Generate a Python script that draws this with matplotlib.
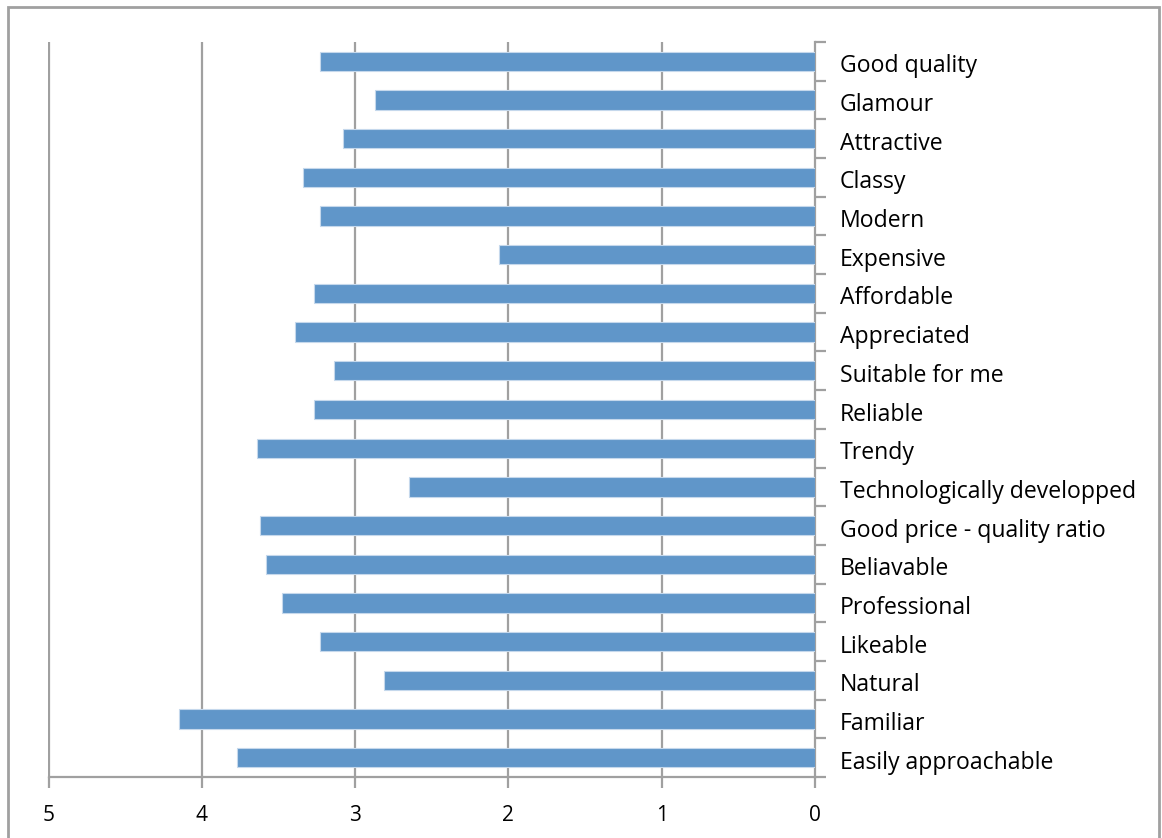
import numpy as np
from matplotlib import pyplot as plt
from matplotlib.patches import Rectangle
from matplotlib.transforms import ScaledTranslation

plt.rcParams['font.family'] = ['Open Sans', 'DejaVu Sans']

# Attribute scores, listed top to bottom
labels = ['Good quality', 'Glamour', 'Attractive', 'Classy', 'Modern',
          'Expensive', 'Affordable', 'Appreciated', 'Suitable for me',
          'Reliable', 'Trendy', 'Technologically developped',
          'Good price - quality ratio', 'Beliavable', 'Professional',
          'Likeable', 'Natural', 'Familiar', 'Easily approachable']
scores = [3.23, 2.87, 3.08, 3.34, 3.23, 2.06, 3.27, 3.39, 3.14, 3.27,
          3.64, 2.65, 3.62, 3.58, 3.48, 3.23, 2.81, 4.15, 3.77]
xticks = [5, 4, 3, 2, 1, 0]

W, H = 1162, 838
fig = plt.figure()
fig.set_dpi(100)
fig.set_size_inches(W / 100, H / 100)

grey = '#A0A0A0'

# outer chart frame (bottom edge runs off the canvas)
frame = Rectangle((8 / W, -0.01), (1159 - 8) / W, (H - 7) / H + 0.01,
                  transform=fig.transFigure, fill=False,
                  edgecolor=grey, linewidth=2)
fig.patches.append(frame)

left, right = 48.5 / W, 815 / W
top, bottom = 1 - 42 / H, 1 - 777 / H
ax = fig.add_axes([left, bottom, right - left, top - bottom])

n = len(labels)
y = np.arange(n)[::-1]
ax.barh(y, scores, height=0.5, color='#6096C9', edgecolor='#C5D8EC',
        linewidth=0.8, zorder=3)

ax.set_xlim(5, 0)
ax.set_ylim(-0.5, n - 0.5)

# vertical gridlines
for v in [5, 4, 3, 2, 1]:
    ax.axvline(v, color=grey, linewidth=1.6, zorder=1)

for s in ['left', 'top']:
    ax.spines[s].set_visible(False)
for s in ['right', 'bottom']:
    ax.spines[s].set_color(grey)
    ax.spines[s].set_linewidth(1.6)

ax.set_xticks(xticks)
ax.set_xticklabels([str(v) for v in xticks], fontsize=15)
ax.tick_params(axis='x', direction='out', length=8, width=1.6,
               color=grey, pad=12)

ax.yaxis.tick_right()
ax.set_yticks(y)
ax.set_yticklabels(labels, fontsize=16.6)
ax.set_yticks(np.arange(n + 1) - 0.5, minor=True)
ax.tick_params(axis='y', which='major', length=0, pad=18)
ax.tick_params(axis='y', which='minor', direction='out', length=8,
               width=1.6, color=grey)
# nudge category labels down a little
shift = ScaledTranslation(0, -2 / 100, fig.dpi_scale_trans)
for t in ax.get_yticklabels():
    t.set_transform(t.get_transform() + shift)

fig.savefig('out.png', dpi=100)
